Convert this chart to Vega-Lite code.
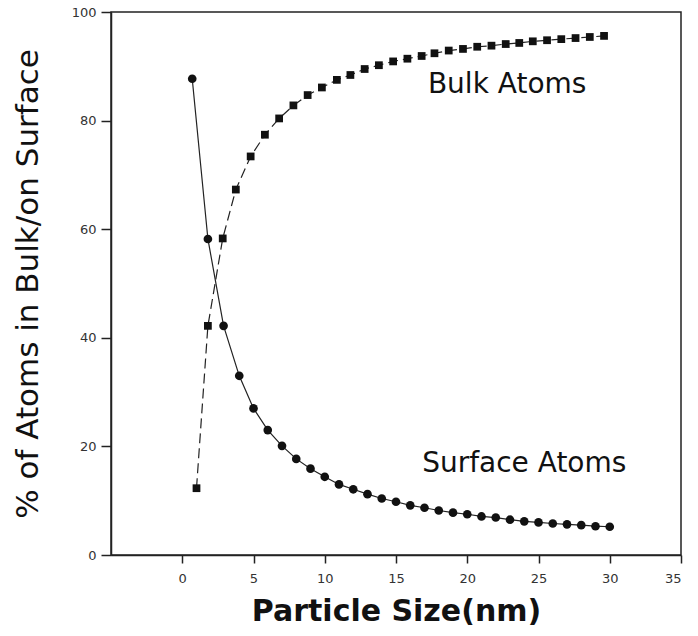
{
  "$schema": "https://vega.github.io/schema/vega-lite/v6.json",
  "autosize": "none",
  "padding": {"left": 111, "top": 12, "right": 17, "bottom": 81},
  "width": 570,
  "height": 543,
  "background": "white",
  "config": {
    "view": {"stroke": "#222", "strokeWidth": 1.5},
    "axis": {
      "grid": false,
      "domainColor": "#222",
      "domainWidth": 1.5,
      "tickColor": "#222",
      "tickWidth": 1.5,
      "labelFont": "DejaVu Sans",
      "labelColor": "#333",
      "titleColor": "#111"
    }
  },
  "datasets": {
    "pts": [
      {"series": "Surface", "size": 0.7, "pct": 87.7},
      {"series": "Surface", "size": 1.8, "pct": 58.2},
      {"series": "Surface", "size": 2.9, "pct": 42.2},
      {"series": "Surface", "size": 4, "pct": 33.0},
      {"series": "Surface", "size": 5, "pct": 27.0},
      {"series": "Surface", "size": 6, "pct": 23.0},
      {"series": "Surface", "size": 7, "pct": 20.1},
      {"series": "Surface", "size": 8, "pct": 17.7},
      {"series": "Surface", "size": 9, "pct": 15.9},
      {"series": "Surface", "size": 10, "pct": 14.4},
      {"series": "Surface", "size": 11, "pct": 13.0},
      {"series": "Surface", "size": 12, "pct": 12.1},
      {"series": "Surface", "size": 13, "pct": 11.2},
      {"series": "Surface", "size": 14, "pct": 10.4},
      {"series": "Surface", "size": 15, "pct": 9.8},
      {"series": "Surface", "size": 16, "pct": 9.15},
      {"series": "Surface", "size": 17, "pct": 8.7},
      {"series": "Surface", "size": 18, "pct": 8.2},
      {"series": "Surface", "size": 19, "pct": 7.8},
      {"series": "Surface", "size": 20, "pct": 7.5},
      {"series": "Surface", "size": 21, "pct": 7.1},
      {"series": "Surface", "size": 22, "pct": 6.9},
      {"series": "Surface", "size": 23, "pct": 6.5},
      {"series": "Surface", "size": 24, "pct": 6.2},
      {"series": "Surface", "size": 25, "pct": 6.0},
      {"series": "Surface", "size": 26, "pct": 5.8},
      {"series": "Surface", "size": 27, "pct": 5.65},
      {"series": "Surface", "size": 28, "pct": 5.5},
      {"series": "Surface", "size": 29, "pct": 5.3},
      {"series": "Surface", "size": 30, "pct": 5.2},
      {"series": "Bulk", "size": 1.0, "pct": 12.3},
      {"series": "Bulk", "size": 1.8, "pct": 42.2},
      {"series": "Bulk", "size": 2.84, "pct": 58.3},
      {"series": "Bulk", "size": 3.76, "pct": 67.3},
      {"series": "Bulk", "size": 4.8, "pct": 73.4},
      {"series": "Bulk", "size": 5.8, "pct": 77.4},
      {"series": "Bulk", "size": 6.8, "pct": 80.4},
      {"series": "Bulk", "size": 7.8, "pct": 82.8},
      {"series": "Bulk", "size": 8.8, "pct": 84.7},
      {"series": "Bulk", "size": 9.8, "pct": 86.1},
      {"series": "Bulk", "size": 10.85, "pct": 87.5},
      {"series": "Bulk", "size": 11.8, "pct": 88.4},
      {"series": "Bulk", "size": 12.8, "pct": 89.5},
      {"series": "Bulk", "size": 13.8, "pct": 90.2},
      {"series": "Bulk", "size": 14.8, "pct": 90.9},
      {"series": "Bulk", "size": 15.8, "pct": 91.4},
      {"series": "Bulk", "size": 16.8, "pct": 91.9},
      {"series": "Bulk", "size": 17.7, "pct": 92.4},
      {"series": "Bulk", "size": 18.7, "pct": 92.9},
      {"series": "Bulk", "size": 19.7, "pct": 93.2},
      {"series": "Bulk", "size": 20.7, "pct": 93.6},
      {"series": "Bulk", "size": 21.7, "pct": 93.8},
      {"series": "Bulk", "size": 22.7, "pct": 94.1},
      {"series": "Bulk", "size": 23.65, "pct": 94.3},
      {"series": "Bulk", "size": 24.6, "pct": 94.6},
      {"series": "Bulk", "size": 25.6, "pct": 94.8},
      {"series": "Bulk", "size": 26.6, "pct": 95.0},
      {"series": "Bulk", "size": 27.6, "pct": 95.2},
      {"series": "Bulk", "size": 28.6, "pct": 95.4},
      {"series": "Bulk", "size": 29.6, "pct": 95.6}
    ],
    "labels": [
      {"label": "Bulk Atoms", "size": 22.8, "pct": 86.6},
      {"label": "Surface Atoms", "size": 24.0, "pct": 16.8}
    ]
  },
  "encoding": {
    "x": {
      "field": "size", "type": "quantitative",
      "scale": {"domain": [-5, 35], "nice": false, "zero": false},
      "axis": {
        "title": "Particle Size(nm)",
        "values": [0, 5, 10, 15, 20, 25, 30, 35],
        "tickSize": 8,
        "labelPadding": 9,
        "labelFontSize": 13,
        "titleFont": "DejaVu Sans",
        "titleFontWeight": "bold",
        "titleFontSize": 30,
        "titlePadding": 11
      }
    },
    "y": {
      "field": "pct", "type": "quantitative",
      "scale": {"domain": [0, 100], "nice": false},
      "axis": {
        "title": "% of Atoms in Bulk/on Surface",
        "values": [0, 20, 40, 60, 80, 100],
        "tickSize": 10,
        "labelPadding": 5,
        "labelFontSize": 13,
        "titleFont": "DejaVu Sans",
        "titleFontWeight": "normal",
        "titleFontSize": 31,
        "titlePadding": 27
      }
    }
  },
  "layer": [
    {
      "data": {"name": "pts"},
      "transform": [{"filter": "datum.series === 'Surface'"}],
      "mark": {"type": "line", "color": "#222", "strokeWidth": 1.2},
      "encoding": {}
    },
    {
      "data": {"name": "pts"},
      "transform": [{"filter": "datum.series === 'Bulk'"}],
      "mark": {"type": "line", "color": "#222", "strokeWidth": 1.2, "strokeDash": [10, 5]},
      "encoding": {}
    },
    {
      "data": {"name": "pts"},
      "transform": [{"filter": "datum.series === 'Surface'"}],
      "mark": {"type": "point", "shape": "circle", "filled": true, "color": "#111", "size": 75, "opacity": 1},
      "encoding": {}
    },
    {
      "data": {"name": "pts"},
      "transform": [{"filter": "datum.series === 'Bulk'"}],
      "mark": {"type": "point", "shape": "square", "filled": true, "color": "#111", "size": 60, "opacity": 1},
      "encoding": {}
    },
    {
      "data": {"name": "labels"},
      "mark": {"type": "text", "font": "DejaVu Sans", "fontSize": 28, "color": "#111", "align": "center", "baseline": "middle"},
      "encoding": {"text": {"field": "label"}}
    }
  ]
}
